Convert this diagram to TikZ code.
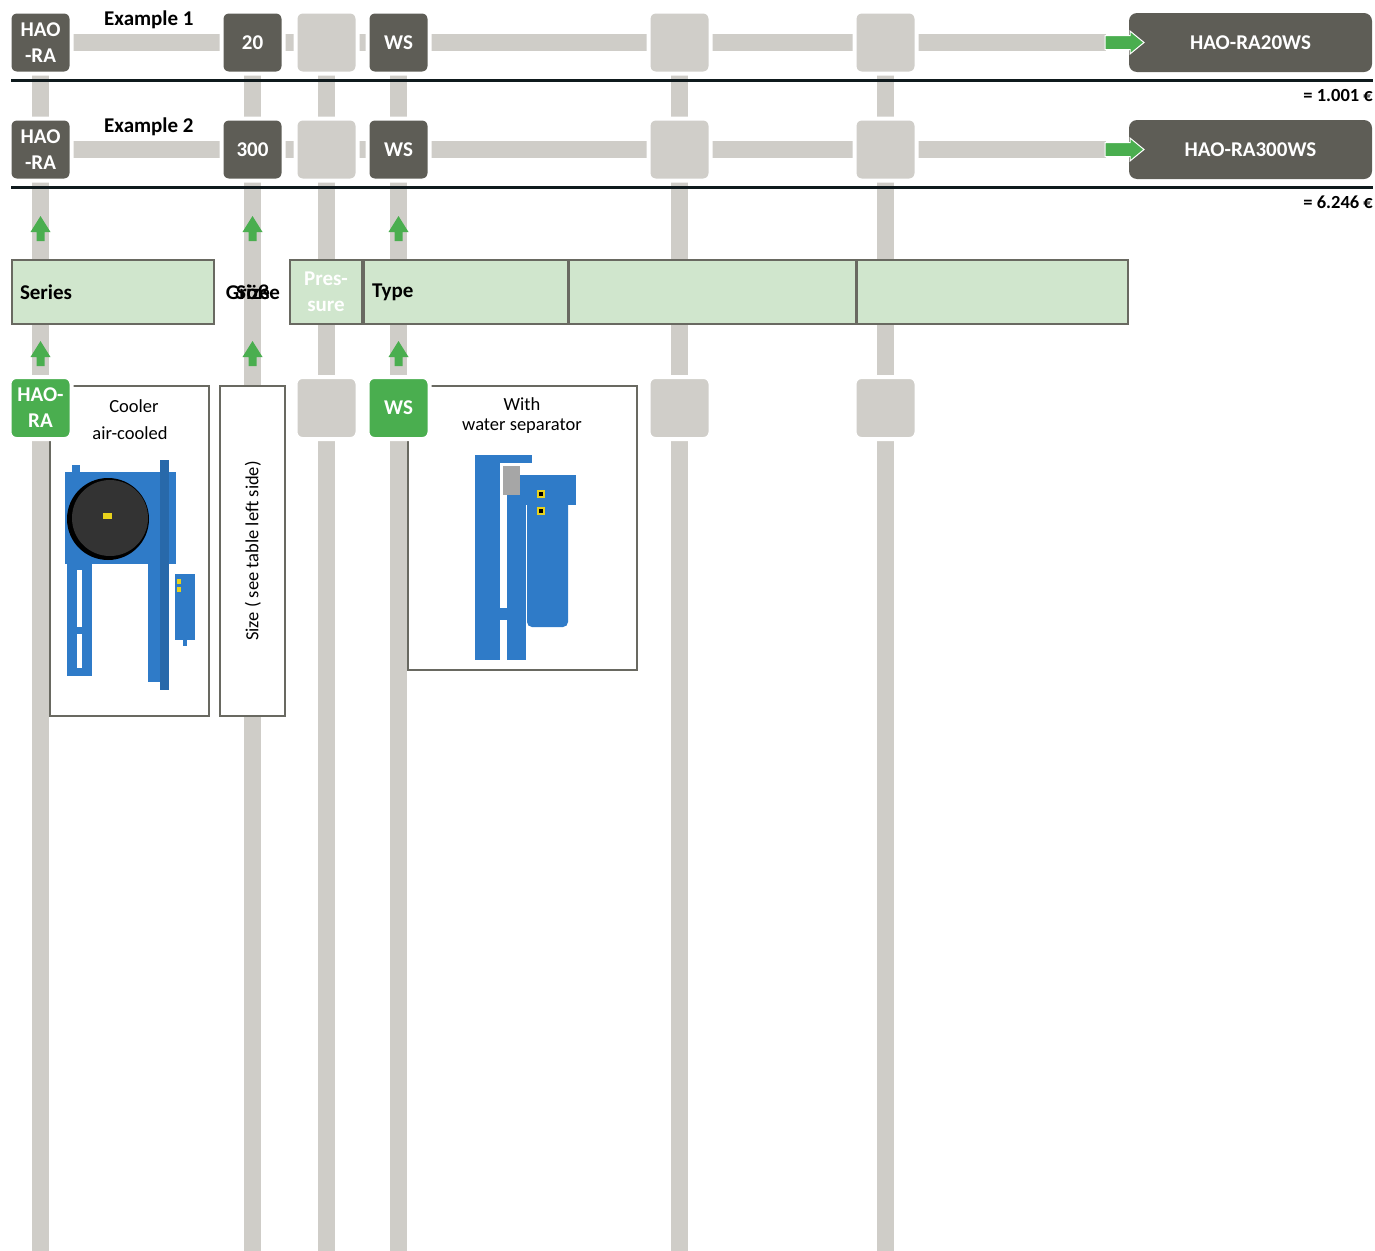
\documentclass[tikz,border=0pt]{standalone}
\usepackage{fontspec}
\setmainfont{Carlito}
\usetikzlibrary{calc}
\pgfdeclarelayer{background}
\pgfsetlayers{background,main}
\definecolor{bargrey}{HTML}{CFCDC8}
\definecolor{darkbox}{HTML}{5E5D56}
\definecolor{lightbox}{HTML}{D0CEC9}
\definecolor{grn}{HTML}{4AAE4F}
\definecolor{band}{HTML}{D0E6CD}
\definecolor{bandline}{HTML}{696961}
\definecolor{rulecol}{HTML}{0F1A1D}
\definecolor{pblue}{HTML}{2F7BC8}
\definecolor{pyel}{HTML}{E8D21C}
\tikzset{
  selbox/.style={rectangle, rounded corners=7pt, minimum width=62pt, minimum height=62pt,
    draw=white, line width=4pt, inner sep=0pt, align=center, text=white,
    font=\fontsize{21}{26}\selectfont\bfseries},
  darksel/.style={selbox, fill=darkbox},
  lightsel/.style={selbox, fill=lightbox},
  greensel/.style={selbox, fill=grn},
  resultbox/.style={rectangle, rounded corners=8pt, minimum width=243pt, minimum height=59pt,
    fill=darkbox, inner sep=0pt, text=white, font=\fontsize{21}{25}\selectfont\bfseries},
  bandbox/.style={rectangle, draw=bandline, fill=band, line width=2.5pt, minimum height=64pt,
    inner sep=0pt, font=\fontsize{21}{25}\selectfont\bfseries},
  infobox/.style={rectangle, draw=bandline, fill=white, line width=2.5pt, inner sep=0pt},
  vbar/.style={draw=bargrey, line width=17pt},
  hbar/.style={draw=bargrey, line width=17pt},
  blackrule/.style={draw=rulecol, line width=3pt},
  extext/.style={font=\fontsize{21}{25}\selectfont\bfseries, anchor=west, inner sep=0pt},
  price/.style={font=\fontsize{18.5}{22}\selectfont\bfseries, anchor=east, inner sep=0pt},
  small/.style={font=\fontsize{18.5}{22}\selectfont, inner sep=0pt},
  uparr/.pic={\fill[grn] (0,0) -- (10,16) -- (4,16) -- (4,25) -- (-4,25) -- (-4,16) -- (-10,16) -- cycle;},
}
\begin{document}
\begin{tikzpicture}[x=1pt,y=-1pt]
\useasboundingbox (0,0) rectangle (1375,1250);

% ---------- Row 1 ----------
\node[darksel] (a1) at (40.5,42.5) {HAO\\-RA};
\node[darksel] (a2) at (252.5,42.5) {20};
\node[lightsel] (a3) at (326.5,42.5) {};
\node[darksel] (a4) at (398.5,42.5) {WS};
\node[lightsel] (a5) at (679.5,42.5) {};
\node[lightsel] (a6) at (885.5,42.5) {};
\node[resultbox] (r1) at (1250.5,42.5) {HAO-RA20WS};
\node[extext] (e1) at (104,20) {Example 1};
\coordinate (r1s) at (1106,42.5);
\fill[grn, draw=white, line width=1pt] (1105,35.5) -- (1130,35.5) -- (1130,31) -- (1144,42.5) -- (1130,54) -- (1130,49.5) -- (1105,49.5) -- cycle;
\coordinate (l1a) at (11,80.5);
\coordinate (l1b) at (1373,80.5);
\draw[blackrule] (l1a) -- (l1b);
\node[price] (p1) at (1373,95) {= 1.001 €};

% ---------- Row 2 ----------
\node[darksel] (b1) at (40.5,149.5) {HAO\\-RA};
\node[darksel] (b2) at (252.5,149.5) {300};
\node[lightsel] (b3) at (326.5,149.5) {};
\node[darksel] (b4) at (398.5,149.5) {WS};
\node[lightsel] (b5) at (679.5,149.5) {};
\node[lightsel] (b6) at (885.5,149.5) {};
\node[resultbox] (r2) at (1250.5,149.5) {HAO-RA300WS};
\node[extext] (e2) at (104,127) {Example 2};
\coordinate (r2s) at (1106,149.5);
\fill[grn, draw=white, line width=1pt] (1105,142.5) -- (1130,142.5) -- (1130,138) -- (1144,149.5) -- (1130,161) -- (1130,156.5) -- (1105,156.5) -- cycle;
\coordinate (l2a) at (11,187.5);
\coordinate (l2b) at (1373,187.5);
\draw[blackrule] (l2a) -- (l2b);
\node[price] (p2) at (1373,202) {= 6.246 €};

% ---------- up arrows ----------
\pic at (40.5,216) {uparr};
\pic at (252.5,216) {uparr};
\pic at (398.5,216) {uparr};
\pic at (40.5,341) {uparr};
\pic at (252.5,341) {uparr};
\pic at (398.5,341) {uparr};

% ---------- band ----------
\node[bandbox, minimum width=202pt, text width=186pt, inner xsep=8pt, align=left] (series) at (113,292) {Series};
\node[font=\fontsize{21}{25}\selectfont\bfseries, inner sep=0pt] (groesse) at (253,292) {Größe};
\node[font=\fontsize{21}{25}\selectfont\bfseries, inner sep=0pt] (size) at (253,292) {Size};
\node[bandbox, minimum width=72pt, text=white, align=center, font=\fontsize{21}{26}\selectfont\bfseries] (press) at (326,292) {Pres-\\sure};
\node[bandbox, minimum width=204pt, text width=188pt, inner xsep=8pt, align=left] (type) at (466,292) {Type};
\node[bandbox, minimum width=287pt] (blank1) at (712.5,292) {};
\node[bandbox, minimum width=271pt] (blank2) at (992.5,292) {};

% ---------- bottom row ----------
\node[infobox, minimum width=159pt, minimum height=330pt] (cooler) at (129.5,551) {};
\node[small] (ct1) at (134,406) {Cooler};
\node[small] (ct2) at (130,433) {air-cooled};
\node[infobox, minimum width=65pt, minimum height=330pt] (sizebox) at (252.5,551) {};
\node[font=\fontsize{18.5}{22}\selectfont, rotate=90, inner sep=0pt] (sizetxt) at (253,551) {Size ( see table left side)};
\node[infobox, minimum width=229pt, minimum height=284pt] (wsbox) at (522.5,528) {};
\node[small] (wt1) at (522,404) {With};
\node[small] (wt2) at (522,426) {water separator};

\node[greensel] (c1) at (40.5,408) {HAO-\\RA};
\node[lightsel] (c3) at (326.5,408) {};
\node[greensel] (c4) at (398.5,408) {WS};
\node[lightsel] (c5) at (679.5,408) {};
\node[lightsel] (c6) at (885.5,408) {};

% ---------- cooler photo (simplified) ----------
\fill[pblue] (72,465) rectangle (80,474);
\fill[pblue] (65,472) rectangle (176,564);
\fill[black] (108,519) circle (41);
\fill[black!80] (110,518) circle (38);
\fill[pyel] (103,513) rectangle (112,519);
\fill[pblue] (67,563) rectangle (92,676);
\fill[white] (77,570) rectangle (82,627);
\fill[white] (77,634) rectangle (82,668);
\fill[pblue] (148,563) rectangle (160,682);
\fill[pblue!85!black] (160,460) rectangle (169,690);
\fill[pblue] (175,574) rectangle (195,640);
\fill[pblue] (183,640) rectangle (187,646);
\fill[pyel] (177,579) rectangle (181,584);
\fill[pyel] (177,587) rectangle (181,592);

% ---------- water separator photo (simplified) ----------
\fill[pblue] (475,455) rectangle (532,463);
\fill[pblue] (475,458) rectangle (500,660);
\fill[pblue] (507,480) rectangle (526,660);
\fill[pblue] (500,608) rectangle (507,620);
\fill[gray!70] (503,466) rectangle (520,495);
\fill[pblue] (520,475) rectangle (576,505);
\fill[pblue, rounded corners=5pt] (527,500) rectangle (568,627);
\fill[pyel] (537,490) rectangle (545,498);
\fill[pyel] (537,507) rectangle (545,515);
\fill[black] (539,492) rectangle (543,496);
\fill[black] (539,509) rectangle (543,513);

% ---------- bars (background) ----------
\begin{pgfonlayer}{background}
\foreach \n in {1,...,6}{
  \coordinate (bot\n) at ($(a\n.center)+(0,1210)$);
  \draw[vbar] (a\n.center) -- (a\n.center |- bot\n);
}
\draw[hbar] (a1.center) -- (r1s);
\draw[hbar] (b1.center) -- (r2s);
\end{pgfonlayer}
\end{tikzpicture}
\end{document}
